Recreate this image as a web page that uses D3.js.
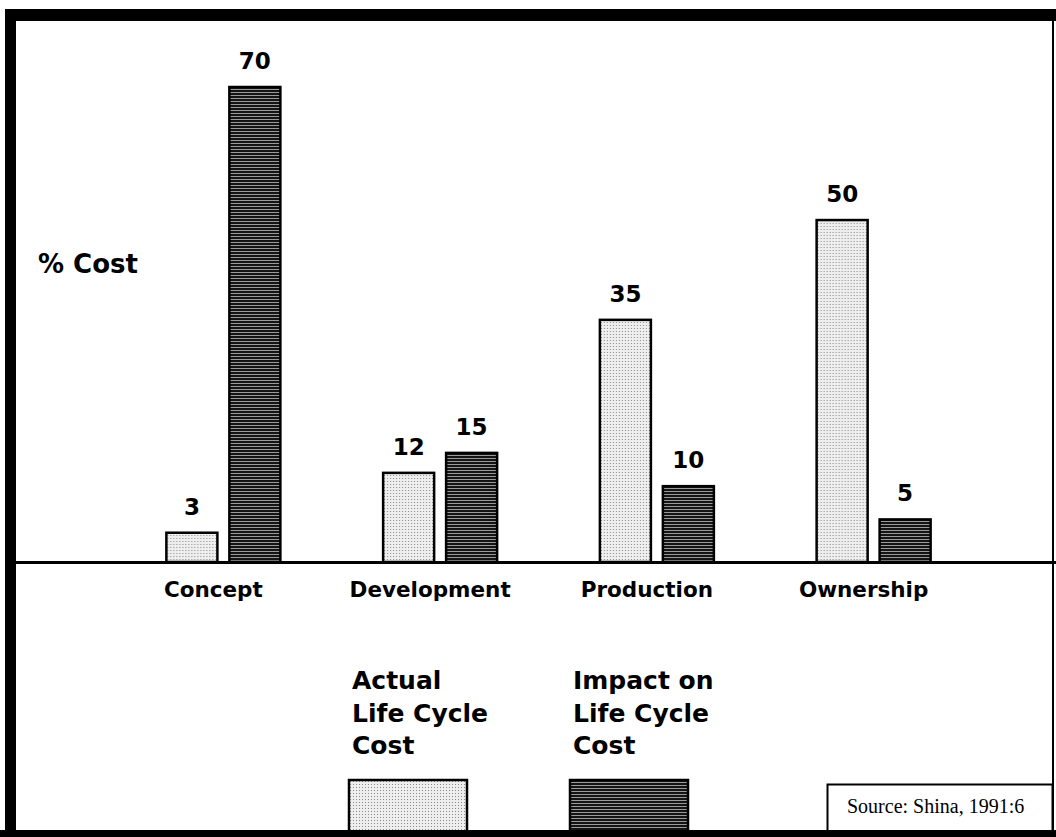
<!DOCTYPE html>
<html>
<head>
<meta charset="utf-8">
<script src="https://cdnjs.cloudflare.com/ajax/libs/d3/7.8.5/d3.min.js"></script>
<style>
    html, body { margin: 0; padding: 0; background: #fff; }
    svg { display: block; }
    .bold { font-family: "DejaVu Sans", sans-serif; font-weight: bold; fill: #000; }
    .serif { font-family: "Liberation Serif", "Times New Roman", serif; fill: #000; }
</style>
</head>
<body>
<svg id="chart" width="1056" height="837"></svg>
<script>
// life cycle phases
const categories = ["Concept", "Development", "Production", "Ownership"];
// series keys
const series = ["actual", "impact"];
// % actual life cycle cost
const actualValues = [3, 12, 35, 50];
// % impact on life cycle cost
const impactValues = [70, 15, 10, 5];
// legend text, one line per entry
const legendLines = [
    ["Actual", "Life Cycle", "Cost"],
    ["Impact on", "Life Cycle", "Cost"]
];
const axisTitle = "% Cost";
const sourceNote = "Source: Shina, 1991:6";

const svg = d3.select("#chart");
const width = 1056, height = 837;
const baseline = 562;

// fill patterns that imitate the scanned halftone textures
const defs = svg.append("defs");
const dots = defs.append("pattern")
    .attr("id", "pat-actual")
    .attr("width", 3).attr("height", 3)
    .attr("patternUnits", "userSpaceOnUse");
dots.append("rect").attr("width", 3).attr("height", 3).attr("fill", "#eeeeee");
dots.append("rect").attr("x", 1).attr("y", 1).attr("width", 1).attr("height", 1).attr("fill", "#8a8a8a");

const lines = defs.append("pattern")
    .attr("id", "pat-impact")
    .attr("width", 6).attr("height", 3)
    .attr("patternUnits", "userSpaceOnUse");
lines.append("rect").attr("width", 6).attr("height", 3).attr("fill", "#9a9a9a");
lines.append("rect").attr("width", 6).attr("height", 2).attr("fill", "#141414");

const fills = { actual: "url(#pat-actual)", impact: "url(#pat-impact)" };

// scales
const x0 = d3.scaleBand()
    .domain(categories)
    .range([115, 982])
    .padding(0);
const x1 = d3.scaleBand()
    .domain(series)
    .range([0, 114])
    .paddingInner(0.19);
const y = d3.scaleLinear()
    .domain([-1.4, 70])
    .range([baseline, 87]);

const data = categories.map((c, i) => ({
    name: c,
    values: [
        { key: "actual", value: actualValues[i] },
        { key: "impact", value: impactValues[i] }
    ]
}));

const groupLeft = c => x0(c) + x0.bandwidth() / 2 - 57;

// bars
const groups = svg.selectAll("g.group")
    .data(data)
    .enter()
    .append("g")
    .attr("class", "group")
    .attr("transform", d => `translate(${groupLeft(d.name)},0)`);

groups.selectAll("rect")
    .data(d => d.values)
    .enter()
    .append("rect")
    .attr("x", d => x1(d.key))
    .attr("y", d => y(d.value))
    .attr("width", x1.bandwidth())
    .attr("height", d => baseline - y(d.value))
    .attr("fill", d => fills[d.key])
    .attr("stroke", "#000")
    .attr("stroke-width", 2.5);

// value labels
groups.selectAll("text.value")
    .data(d => d.values)
    .enter()
    .append("text")
    .attr("class", "value bold")
    .attr("x", d => x1(d.key) + x1.bandwidth() / 2)
    .attr("y", d => y(d.value) - 18)
    .attr("text-anchor", "middle")
    .attr("font-size", 23)
    .text(d => d.value);

// baseline
svg.append("line")
    .attr("x1", 16).attr("x2", width)
    .attr("y1", baseline + 0.5).attr("y2", baseline + 0.5)
    .attr("stroke", "#000")
    .attr("stroke-width", 3);

// category labels
svg.selectAll("text.cat")
    .data(categories)
    .enter()
    .append("text")
    .attr("class", "cat bold")
    .attr("x", d => x0(d) + x0.bandwidth() / 2 - 10)
    .attr("y", 597)
    .attr("text-anchor", "middle")
    .attr("font-size", 21.5)
    .text(d => d);

// axis title
svg.append("text")
    .attr("class", "bold")
    .attr("x", 38)
    .attr("y", 273)
    .attr("font-size", 26)
    .text(axisTitle);

// legend
const legendX = [349, 570];
const legend = svg.selectAll("g.legend")
    .data(series)
    .enter()
    .append("g")
    .attr("class", "legend")
    .attr("transform", (d, i) => `translate(${legendX[i]},0)`);

legend.selectAll("text")
    .data((d, i) => legendLines[i])
    .enter()
    .append("text")
    .attr("class", "bold")
    .attr("x", 3)
    .attr("y", (d, i) => 689 + i * 32.5)
    .attr("font-size", 25)
    .text(d => d);

legend.append("rect")
    .attr("x", 0)
    .attr("y", 780)
    .attr("width", 118)
    .attr("height", 52)
    .attr("fill", d => fills[d])
    .attr("stroke", "#000")
    .attr("stroke-width", 2.5);

// source note box
svg.append("rect")
    .attr("x", 827.5)
    .attr("y", 784.5)
    .attr("width", 225)
    .attr("height", 48)
    .attr("fill", "#fff")
    .attr("stroke", "#000")
    .attr("stroke-width", 2);
svg.append("text")
    .attr("class", "serif")
    .attr("x", 847)
    .attr("y", 813)
    .attr("font-size", 20)
    .text(sourceNote);

// frame
svg.append("rect").attr("x", 5).attr("y", 9).attr("width", width - 5).attr("height", 12).attr("fill", "#000");
svg.append("rect").attr("x", 5).attr("y", 9).attr("width", 11).attr("height", height - 9).attr("fill", "#000");
svg.append("rect").attr("x", 1052).attr("y", 9).attr("width", 2).attr("height", height - 9).attr("fill", "#000");
svg.append("rect").attr("x", 0).attr("y", 830).attr("width", width).attr("height", 7).attr("fill", "#000");
</script>
</body>
</html>
